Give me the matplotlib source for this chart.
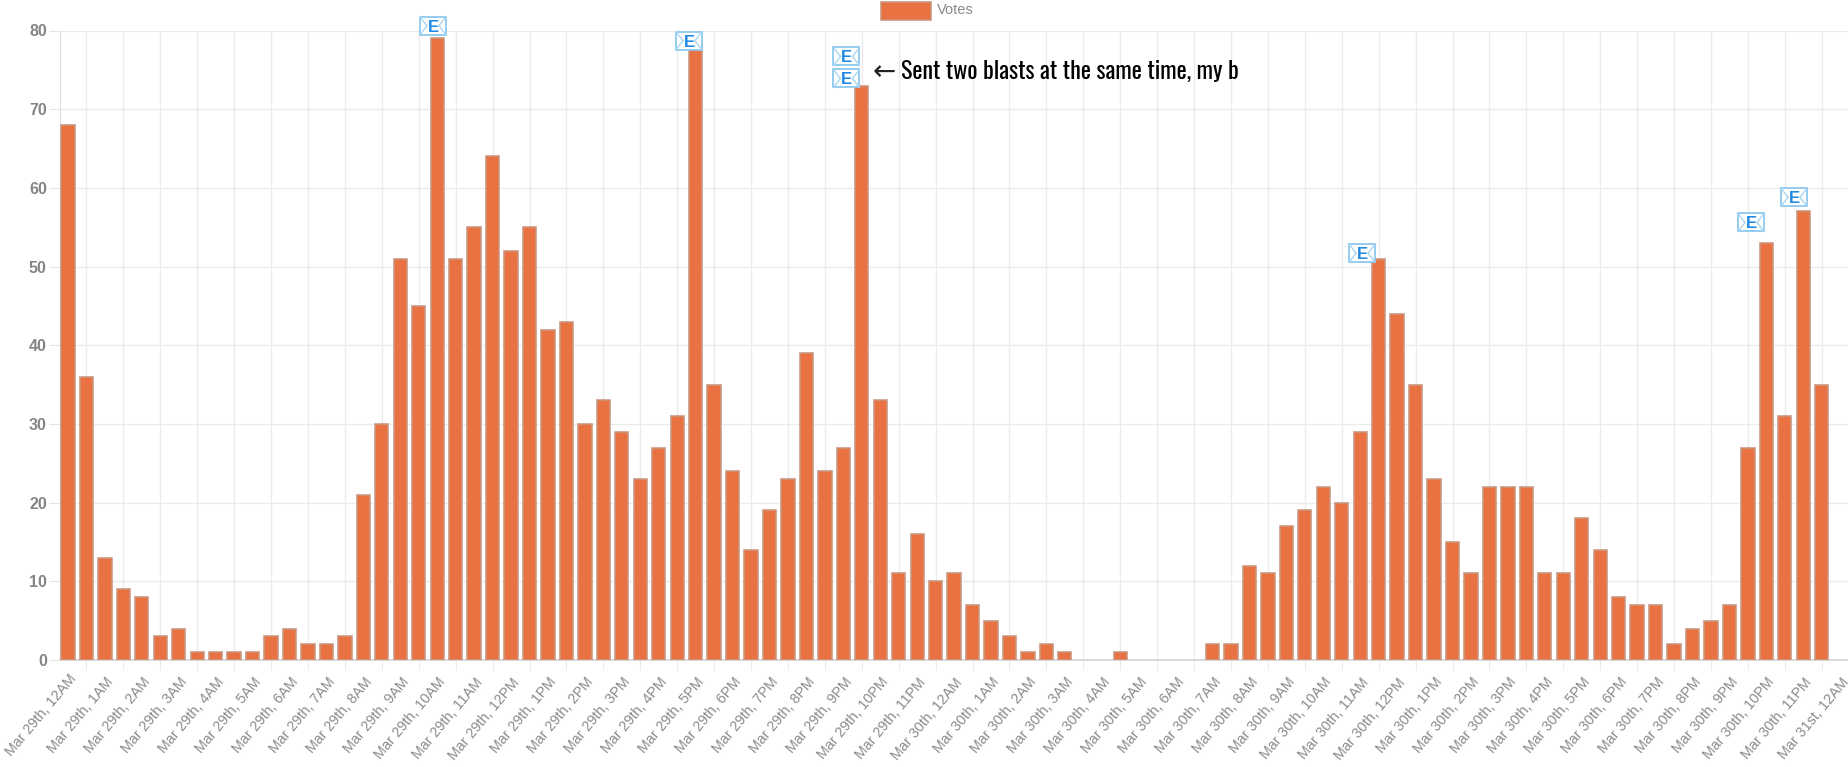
import matplotlib
matplotlib.use("Agg")
import matplotlib.pyplot as plt
from matplotlib.patches import Rectangle
from matplotlib.lines import Line2D
from matplotlib.transforms import ScaledTranslation, IdentityTransform

votes = [68, 36, 13, 9, 8, 3, 4, 1, 1, 1, 1, 3, 4, 2, 2, 3,
         21, 30, 51, 45, 79, 51, 55, 64, 52, 55, 42, 43, 30, 33, 29, 23,
         27, 31, 78, 35, 24, 14, 19, 23, 39, 24, 27, 73, 33, 11, 16, 10,
         11, 7, 5, 3, 1, 2, 1, 0, 0, 1, 0, 0, 0, 0, 2, 2,
         12, 11, 17, 19, 22, 20, 29, 51, 44, 35, 23, 15, 11, 22, 22, 22,
         11, 11, 18, 14, 8, 7, 7, 2, 4, 5, 7, 27, 53, 31, 57, 35]

hours = ["12AM", "1AM", "2AM", "3AM", "4AM", "5AM", "6AM", "7AM", "8AM", "9AM", "10AM", "11AM",
         "12PM", "1PM", "2PM", "3PM", "4PM", "5PM", "6PM", "7PM", "8PM", "9PM", "10PM", "11PM"]
time_labels = [f"Mar 29th, {h}" for h in hours] + [f"Mar 30th, {h}" for h in hours] + ["Mar 31st, 12AM"]

blast_x = [19.77, 33.64, 42.17, 42.17, 70.1, 91.17, 93.5]
blast_y = [80.6, 78.7, 76.7, 73.9, 51.7, 55.6, 58.8]

W, H = 1849, 767
plt.rcParams["font.family"] = ["Liberation Sans", "DejaVu Sans"]
fig = plt.figure(figsize=(W / 100, H / 100), dpi=100)
L, R, T, B = 60, 1849, 30.5, 660
ax = fig.add_axes([L / W, 1 - B / H, (R - L) / W, (B - T) / H])
step = 18.46
ax.set_xlim((L - 68) / step, (R - 68) / step)
ax.set_ylim(0, 80)

ax.set_axisbelow(True)
ax.grid(True, color="#ebebeb", lw=1.0)
for side in ("top", "right"):
    ax.spines[side].set_visible(False)
ax.spines["left"].set_color("#e0e0e0")
ax.spines["bottom"].set_color("#d6d6d6")
ax.spines["bottom"].set_linewidth(1.3)

ax.bar(range(len(votes)), votes, width=0.72, facecolor="#E96A38", alpha=0.95,
       edgecolor="#c9957e", linewidth=[1.2 if v else 0 for v in votes], zorder=3)

# labels sit one bar left of their category slot, so the first one falls outside the plot area
tick_pos = [2 * j - 1 for j in range(len(time_labels))]
ax.set_xticks(tick_pos[1:], time_labels[1:])
ax.set_yticks(range(0, 81, 10))
ax.tick_params(axis="x", length=7, color="#ebebeb", labelsize=10.3, labelcolor="#8a8a8a", pad=4)
ax.tick_params(axis="y", length=8, color="#e4e4e4", labelsize=11.5, labelcolor="#858585", pad=1.5)
shift = ScaledTranslation(19 / 100, 0, fig.dpi_scale_trans)
for lab in ax.get_xticklabels():
    lab.set_rotation(50)
    lab.set_ha("right")
    lab.set_rotation_mode("anchor")
    lab.set_transform(lab.get_transform() + shift)
for lab in ax.get_yticklabels():
    lab.set_fontweight("bold")

xt = ax.get_xaxis_transform()
ax.annotate(time_labels[0], xy=(tick_pos[0], 0), xycoords=xt, xytext=(19 * 0.72, -8.5), textcoords="offset points",
            rotation=50, ha="right", va="top", rotation_mode="anchor", fontsize=10.3,
            color="#8a8a8a", annotation_clip=False)

px = IdentityTransform()
def envelope(x, y):
    cx, cy = ax.transData.transform((x, y))
    w, h = 26, 18
    x0, y0 = cx - w / 2, cy - h / 2
    z = 6
    fig.add_artist(Rectangle((x0, y0), w, h, transform=px, fc="white", ec="#8cc8ee", lw=1.3, zorder=z))
    for seg in [((x0, cx - 6), (y0 + h, cy)), ((x0, cx - 6), (y0, cy)),
                ((x0 + w, cx + 6), (y0 + h, cy)), ((x0 + w, cx + 6), (y0, cy))]:
        fig.add_artist(Line2D(seg[0], seg[1], transform=px, color="#a9d6f2", lw=1.0, zorder=z))
    fig.text(cx / W, cy / H, "E", ha="center", va="center_baseline", color="#1e88e5", fontsize=12,
             fontweight="bold", zorder=z + 1)

for bx, by in zip(blast_x, blast_y):
    envelope(bx, by)

fig.text(873 / W, 1 - 72 / H, "\u2190", fontsize=20, family="DejaVu Sans", color="#222222", ha="left", va="center")
fig.text(901 / W, 1 - 71 / H, "Sent two blasts at the same time, my b", fontsize=17.3,
         family=["Oswald", "Liberation Sans"], color="black", ha="left", va="center")

fig.add_artist(Rectangle((881, H - 20), 50, 18, transform=px, fc="#E96A38", ec="#c9957e", lw=1.2, alpha=0.95))
fig.text(937 / W, 1 - 9.5 / H, "Votes", fontsize=10.5, color="#8a8a8a", ha="left", va="center")

assert len(votes) == 96, len(votes)
fig.savefig("out.png", dpi=100)
